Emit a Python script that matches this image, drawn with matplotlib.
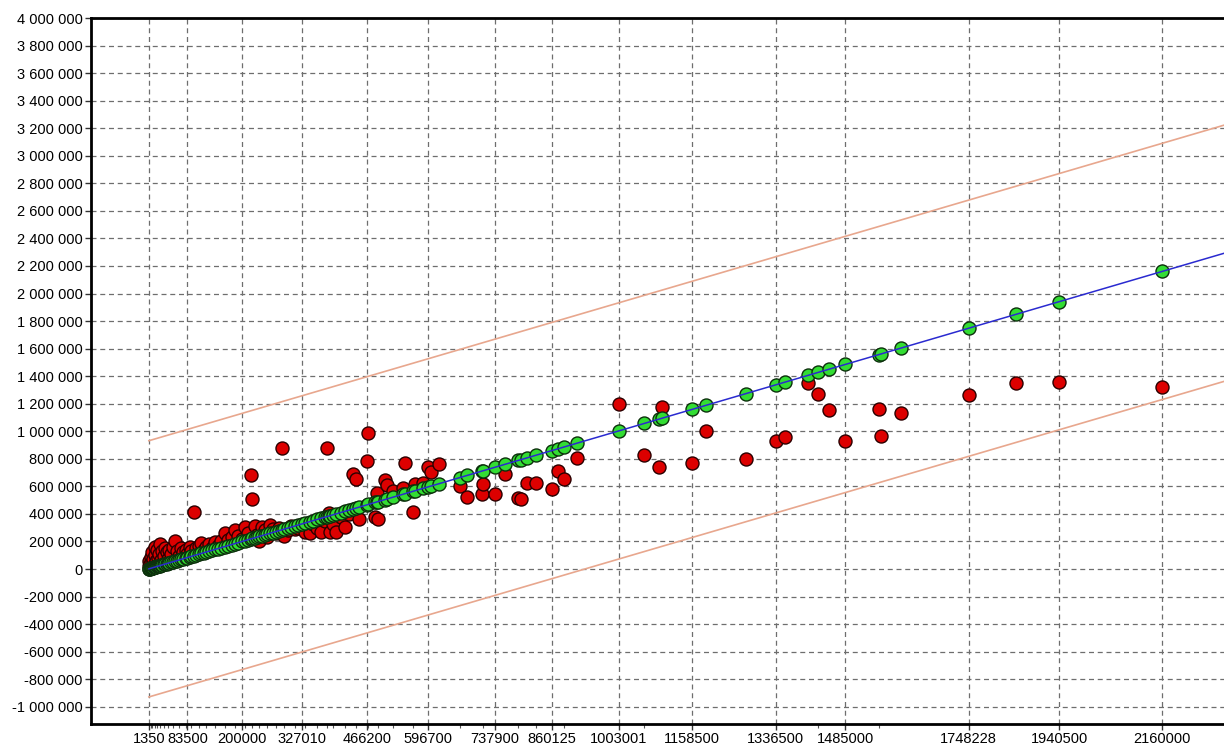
import numpy as np
import matplotlib.pyplot as plt
from matplotlib.ticker import FuncFormatter

# Observed values (x) and model predictions (red points)
actual = [
    1350, 2500, 3500, 5000, 6000, 7500, 9000, 10000, 12000, 14000,
    15000, 17000, 19000, 21000, 23000, 25000, 27000, 30000, 33000, 36000,
    39000, 42000, 45000, 48000, 52000, 57000, 61000, 66000, 70000, 75000,
    80000, 83500, 88000, 92000, 97000, 102000, 108000, 113000, 118000, 124000,
    130000, 136000, 142000, 148000, 155000, 163000, 170000, 178000, 185000, 192000,
    200000, 206000, 212000, 218000, 222000, 227000, 232000, 237000, 242000, 248000,
    254000, 259000, 265000, 272000, 278000, 284000, 290000, 297000, 304000, 312000,
    320000, 327010, 335000, 344000, 352000, 360000, 369000, 376000, 381000, 385000,
    387000, 394000, 401000, 410000, 419000, 428000, 437000, 442000, 450000, 465000,
    469000, 483000, 487000, 490000, 504000, 508000, 522000, 543000, 547000, 564000,
    568000, 586000, 596700, 602000, 620000, 664000, 680000, 712000, 714000, 737900,
    761000, 788000, 794000, 806000, 827000, 860125, 872000, 886000, 913000, 1003001,
    1057000, 1089000, 1095000, 1158500, 1188000, 1274000, 1336500, 1357000, 1405000, 1428000,
    1450000, 1485000, 1556000, 1561000, 1604000, 1748228, 1848000, 1940500, 2160000,
]
predicted = [
    20000, 60000, 35000, 90000, 10000, 50000, 120000, 75000, 30000, 160000,
    100000, 55000, 140000, 80000, 110000, 185000, 65000, 130000, 95000, 150000,
    120000, 75000, 140000, 110000, 160000, 200000, 130000, 95000, 150000, 120000,
    140000, 110000, 160000, 130000, 414000, 150000, 170000, 190000, 140000, 160000,
    180000, 150000, 196000, 170000, 200000, 261000, 210000, 230000, 283000, 240000,
    220000, 305000, 260000, 682000, 508000, 312000, 250000, 200000, 305000, 280000,
    230000, 319000, 290000, 260000, 300000, 878000, 240000, 280000, 310000, 290000,
    300000, 320000, 270000, 261000, 330000, 300000, 268000, 350000, 878000, 406000,
    268000, 330000, 268000, 380000, 305000, 400000, 689000, 653000, 363000, 784000,
    987000, 377000, 552000, 363000, 646000, 610000, 566000, 588000, 769000, 414000,
    617000, 624000, 740000, 704000, 762000, 602000, 522000, 544000, 617000, 544000,
    689000, 515000, 508000, 624000, 624000, 581000, 711000, 653000, 805000, 1197000,
    827000, 740000, 1176000, 769000, 1001000, 798000, 929000, 958000, 1350000, 1270000,
    1154000, 929000, 1161000, 965000, 1132000, 1263000, 1350000, 1357000, 1321000,
]

tick_values = [1350, 83500, 200000, 327010, 466200, 596700, 737900, 860125,
               1003001, 1158500, 1336500, 1485000, 1748228, 1940500, 2160000]
band_offset = 930000

plt.rcParams['font.family'] = ['Liberation Sans', 'DejaVu Sans']

fig = plt.figure(figsize=(12.24, 7.49), dpi=100)
ax = fig.add_axes([91 / 1224, 25 / 749, 1 - 91 / 1224, 1 - 43 / 749])

x = np.array(actual, dtype=float)
y = np.array(predicted, dtype=float)

# reference line y = x and the tolerance band around it
line_x = np.array([x.min(), 2400000])
ax.plot(line_x, line_x + band_offset, color='#e8a78e', lw=1.2, zorder=2)
ax.plot(line_x, line_x - band_offset, color='#e8a78e', lw=1.2, zorder=2)

ax.scatter(x, y, s=88, c='#dd0000', edgecolors='#2a0000', linewidths=1.0, zorder=3)
ax.scatter(x, x, s=88, c='#33dd33', edgecolors='#0c300c', linewidths=1.0, zorder=4)
ax.plot(line_x, line_x, color='#2a2ad0', lw=1.1, zorder=5)

ax.set_xlim(-122000, 2292000)
ax.set_ylim(-1125000, 4000000)

ax.set_xticks(tick_values)
ax.set_xticklabels([str(v) for v in tick_values])
ax.set_xticks(sorted(set(actual[::3])), minor=True)
ax.set_yticks(np.arange(-1000000, 4000001, 200000))
ax.yaxis.set_major_formatter(FuncFormatter(lambda v, p: f"{int(v):,}".replace(",", " ")))

ax.grid(True, which='major', color='#6e6e6e', linestyle=(0, (4, 3)), linewidth=0.9, zorder=1)
ax.tick_params(axis='both', which='major', labelsize=10.5, length=4, width=1, color='#333333', pad=2)
ax.tick_params(axis='x', which='minor', length=3, width=0.8, color='#555555')

for side in ['left', 'bottom', 'top']:
    ax.spines[side].set_linewidth(2)
    ax.spines[side].set_color('black')
ax.spines['right'].set_visible(False)

plt.savefig('out.png', dpi=100)
